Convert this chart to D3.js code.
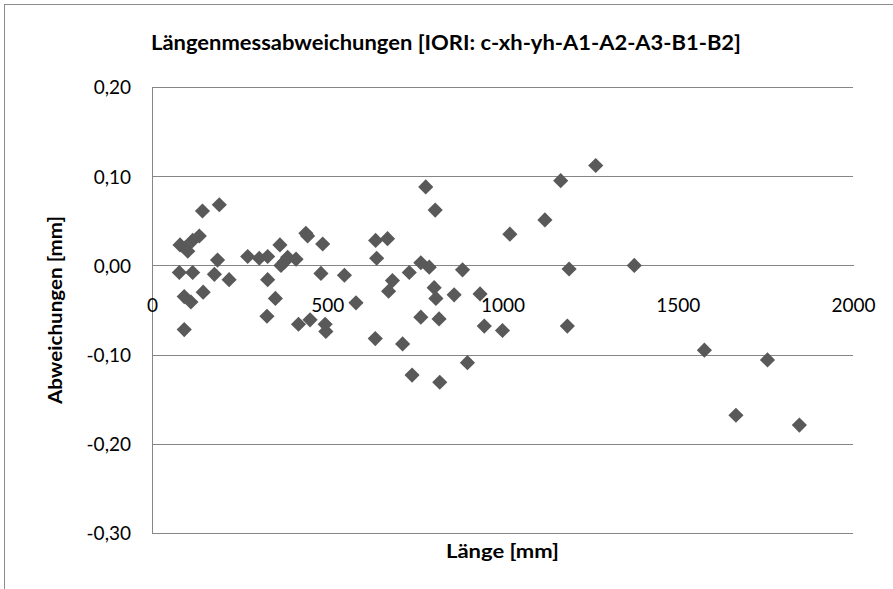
<!DOCTYPE html>
<html>
<head>
<meta charset="utf-8">
<script src="https://cdn.jsdelivr.net/npm/d3@7"></script>
<style>
  html, body { margin: 0; padding: 0; background: #fff; }
  svg { display: block; }
  text { font-family: Lato, "Open Sans", "Liberation Sans", sans-serif; fill: #000; }
</style>
</head>
<body>
<svg id="chart" width="893" height="589"></svg>
<script>
const chartTitle = "Längenmessabweichungen [IORI: c-xh-yh-A1-A2-A3-B1-B2]";
const xTitle = "Länge [mm]";
const yTitle = "Abweichungen [mm]";

const lengths = [
  80, 95, 102, 116, 135, 144, 192, 78, 116, 187, 178, 220, 92, 111, 146, 92,
  273, 306, 330, 365, 387, 411, 368, 378, 330, 352, 328, 439, 444, 487, 482, 549,
  418, 451, 494, 496, 582, 638, 672, 641, 637, 686, 675, 734, 767, 791, 805, 810,
  767, 819, 715, 781, 808, 886, 862, 936, 948, 1000, 900, 742, 821, 1021, 1121, 1166,
  1266, 1190, 1185, 1376, 1576, 1756, 1666, 1847
];
const deviations = [
  0.023, 0.020, 0.016, 0.028, 0.033, 0.061, 0.068, -0.008, -0.008, 0.006, -0.010, -0.016, -0.035, -0.041, -0.030, -0.072,
  0.010, 0.008, 0.010, 0.023, 0.009, 0.007, 0.000, 0.004, -0.016, -0.037, -0.057, 0.036, 0.033, 0.024, -0.009, -0.011,
  -0.066, -0.061, -0.066, -0.074, -0.042, 0.028, 0.030, 0.008, -0.082, -0.017, -0.029, -0.008, 0.003, -0.002, -0.025, -0.037,
  -0.058, -0.060, -0.088, 0.088, 0.062, -0.005, -0.033, -0.032, -0.068, -0.073, -0.109, -0.123, -0.131, 0.035, 0.051, 0.095,
  0.112, -0.004, -0.068, 0.000, -0.095, -0.106, -0.168, -0.179
];
const xTicks = [0, 500, 1000, 1500, 2000];
const yTicks = [0.20, 0.10, 0.00, -0.10, -0.20, -0.30];

const points = lengths.map((l, i) => ({ x: l, y: deviations[i] }));

const svg = d3.select("#chart");
const plot = { left: 152, right: 853, top: 87, bottom: 533 };

const x = d3.scaleLinear().domain([0, 2000]).range([plot.left, plot.right]);
const y = d3.scaleLinear().domain([-0.30, 0.20]).range([plot.bottom, plot.top]);

const gridColor = "#868686";
const fmtY = d => d3.format(".2f")(d).replace(".", ",").replace("−", "-");

// chart outer border
svg.append("rect")
  .attr("x", 4.5).attr("y", 4.5)
  .attr("width", 1000).attr("height", 1000)
  .attr("fill", "none").attr("stroke", "#8c8c8c").attr("stroke-width", 1);

// Y axis with gridlines
const yAxis = svg.append("g")
  .attr("transform", `translate(${plot.left},0)`)
  .call(d3.axisLeft(y).tickValues(yTicks).tickSize(-(plot.right - plot.left)).tickFormat(fmtY));
yAxis.select(".domain").remove();
yAxis.selectAll(".tick line").attr("stroke", gridColor).attr("shape-rendering", "crispEdges");
yAxis.selectAll(".tick text")
  .attr("x", -21)
  .attr("dy", "0.36em")
  .style("font-size", "19px")
  .style("font-family", "Lato, 'Open Sans', sans-serif");

// vertical axis line
svg.append("line")
  .attr("x1", plot.left).attr("x2", plot.left)
  .attr("y1", plot.top).attr("y2", plot.bottom)
  .attr("stroke", gridColor).attr("shape-rendering", "crispEdges");

// X axis at y = 0
const xAxis = svg.append("g")
  .attr("transform", `translate(0,${y(0)})`)
  .call(d3.axisBottom(x).tickValues(xTicks).tickSize(0).tickFormat(d3.format("d")));
xAxis.select(".domain").attr("stroke", gridColor).attr("shape-rendering", "crispEdges");
xAxis.selectAll(".tick text")
  .attr("y", 0)
  .attr("dy", "47px")
  .style("font-size", "19px")
  .style("font-family", "Lato, 'Open Sans', sans-serif");

// points (diamonds)
const diamond = d3.symbol().type(d3.symbolSquare).size(115);
svg.append("g").selectAll("path")
  .data(points)
  .join("path")
  .attr("d", diamond)
  .attr("transform", d => `translate(${x(d.x)},${y(d.y)}) rotate(45)`)
  .attr("fill", "#595959");

// title
svg.append("text")
  .attr("x", 446).attr("y", 50)
  .attr("text-anchor", "middle")
  .attr("textLength", 590)
  .attr("lengthAdjust", "spacingAndGlyphs")
  .style("font-size", "20px")
  .style("font-weight", "bold")
  .text(chartTitle);

// x axis title
svg.append("text")
  .attr("x", (plot.left + plot.right) / 2).attr("y", 558)
  .attr("text-anchor", "middle")
  .attr("textLength", 113)
  .attr("lengthAdjust", "spacingAndGlyphs")
  .style("font-size", "19px")
  .style("font-weight", "bold")
  .text(xTitle);

// y axis title
svg.append("text")
  .attr("transform", `translate(62,${(plot.top + plot.bottom) / 2}) rotate(-90)`)
  .attr("text-anchor", "middle")
  .attr("textLength", 188)
  .attr("lengthAdjust", "spacingAndGlyphs")
  .style("font-size", "19px")
  .style("font-weight", "bold")
  .text(yTitle);
</script>
</body>
</html>
